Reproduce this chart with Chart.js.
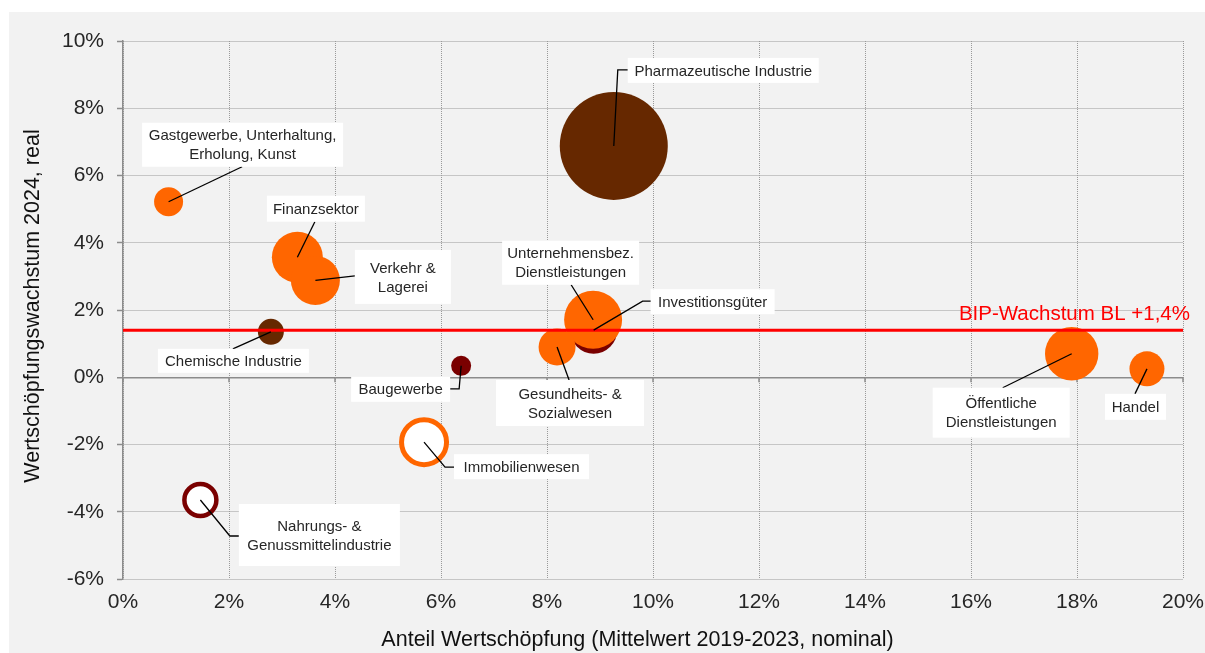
<!DOCTYPE html>
<html>
<head>
<meta charset="utf-8">
<script src="https://cdn.jsdelivr.net/npm/chart.js@4/dist/chart.umd.min.js"></script>
<style>
  html, body { margin: 0; padding: 0; background: #fff; }
  #wrap { width: 1205px; height: 653px; }
</style>
</head>
<body>
<div id="wrap"><canvas id="chart"></canvas></div>
<script>
// values
const sectors = [
  "Pharmazeutische Industrie", "Gastgewerbe, Unterhaltung, Erholung, Kunst", "Finanzsektor",
  "Verkehr & Lagerei", "Chemische Industrie", "Baugewerbe", "Immobilienwesen",
  "Nahrungs- & Genussmittelindustrie", "Investitionsgüter", "Unternehmensbez. Dienstleistungen",
  "Gesundheits- & Sozialwesen", "Öffentliche Dienstleistungen", "Handel"
];
const shareValueAdded = [9.26, 0.86, 3.29, 3.63, 2.79, 6.38, 5.68, 1.46, 8.88, 8.87, 8.19, 17.9, 19.32];
const growthReal      = [6.88, 5.22, 3.57, 2.88, 1.35, 0.34, -1.93, -3.65, 1.40, 1.71, 0.90, 0.70, 0.25];
const bubbleRadius    = [54, 14.5, 25.5, 24.5, 13, 10, 22.5, 16, 23.5, 29, 18.5, 26.7, 17.5];
const bipGrowth = 1.4;
const xRange = [0, 20];
const yRange = [-6, 10];

const FONT = "'Liberation Sans', Arial, sans-serif";
const ORANGE = "#ff6600", BROWN = "#662800", DARKRED = "#7a0000";

const fills   = [BROWN, ORANGE, ORANGE, ORANGE, BROWN, DARKRED, "#ffffff", "#ffffff", DARKRED, ORANGE, ORANGE, ORANGE, ORANGE];
const strokes = [BROWN, ORANGE, ORANGE, ORANGE, BROWN, DARKRED, ORANGE, DARKRED, DARKRED, ORANGE, ORANGE, ORANGE, ORANGE];
const strokeW = [0, 0, 0, 0, 0, 0, 5, 4.5, 0, 0, 0, 0, 0];

// label boxes: offsets from bubble centre in px
const callouts = [
  { lines: ["Pharmazeutische Industrie"], box: [109.5, -75.5, 191, 25], path: [[4, -76], [14, -76]] },
  { lines: ["Gastgewerbe, Unterhaltung,", "Erholung, Kunst"], box: [74, -57, 201, 44], path: [[73.5, -35]] },
  { lines: ["Finanzsektor"], box: [18.5, -48.5, 98, 26], path: [[17.5, -35.5]] },
  { lines: ["Verkehr &", "Lagerei"], box: [87.5, -3.5, 96, 54], path: [[39.5, -4.5]] },
  { lines: ["Chemische Industrie"], box: [-37.5, 29, 151, 24], path: [[-38, 17]] },
  { lines: ["Baugewerbe"], box: [-60.5, 23.5, 99, 25], path: [[-2, 23], [-11, 23]] },
  { lines: ["Immobilienwesen"], box: [97.5, 24.5, 135, 25], path: [[21, 25], [30, 25]] },
  { lines: ["Nahrungs- &", "Genussmittelindustrie"], box: [119, 35, 161, 62], path: [[29.5, 36], [38.5, 36]] },
  { lines: ["Investitionsgüter"], box: [119, -28.5, 124, 25], path: [[49, -29], [59, -29]] },
  { lines: ["Unternehmensbez.", "Dienstleistungen"], box: [-22.5, -57, 137, 44], path: [[-22, -35]] },
  { lines: ["Gesundheits- &", "Sozialwesen"], box: [13, 56, 148, 46], path: [[12, 33]] },
  { lines: ["Öffentliche", "Dienstleistungen"], box: [-70.5, 59, 137, 50], path: [[-69, 34]] },
  { lines: ["Handel"], box: [-11.5, 38, 61, 26], path: [[-12, 25]] }
];

const bubbles = sectors.map((s, i) => ({ x: shareValueAdded[i], y: growthReal[i], r: bubbleRadius[i] }));

const decor = {
  id: "decor",
  beforeDraw(chart) {
    const ctx = chart.ctx;
    ctx.save();
    ctx.fillStyle = "#f2f2f2";
    ctx.fillRect(9, 12, chart.width - 9, chart.height - 12);
    ctx.restore();
  },
  beforeDatasetsDraw(chart) {
    // little ticks below the zero line
    const { ctx, scales: { x, y } } = chart;
    const y0 = y.getPixelForValue(0);
    ctx.save();
    ctx.strokeStyle = "#8c8c8c";
    ctx.lineWidth = 1.5;
    x.ticks.forEach(t => {
      const px = x.getPixelForValue(t.value);
      ctx.beginPath();
      ctx.moveTo(px, y0);
      ctx.lineTo(px, y0 + 5);
      ctx.stroke();
    });
    ctx.restore();
  },
  afterDatasetsDraw(chart) {
    const { ctx } = chart;
    const meta = chart.getDatasetMeta(1);
    ctx.save();
    // leader lines
    ctx.strokeStyle = "#000";
    ctx.lineWidth = 1.3;
    meta.data.forEach((pt, i) => {
      const c = callouts[i];
      ctx.beginPath();
      ctx.moveTo(pt.x, pt.y);
      c.path.forEach(p => ctx.lineTo(pt.x + p[0], pt.y + p[1]));
      ctx.stroke();
    });
    // boxes + text
    ctx.font = "15px " + FONT;
    ctx.textAlign = "center";
    ctx.textBaseline = "middle";
    meta.data.forEach((pt, i) => {
      const c = callouts[i];
      const cx = pt.x + c.box[0], cy = pt.y + c.box[1];
      const w = c.box[2], h = c.box[3];
      ctx.fillStyle = "#ffffff";
      ctx.fillRect(cx - w / 2, cy - h / 2, w, h);
      ctx.fillStyle = "#262626";
      const lh = 19;
      const top = cy - (c.lines.length - 1) * lh / 2;
      c.lines.forEach((l, k) => ctx.fillText(l, cx, top + k * lh + 1));
    });
    ctx.restore();
  },
  afterDraw(chart) {
    const { ctx, chartArea, scales: { y } } = chart;
    ctx.save();
    // BIP label
    ctx.fillStyle = "#ff0000";
    ctx.font = "20.5px " + FONT;
    ctx.textAlign = "right";
    ctx.textBaseline = "alphabetic";
    ctx.fillText("BIP-Wachstum BL +1,4%", chartArea.right + 7, y.getPixelForValue(bipGrowth) - 10);
    // axis titles
    ctx.fillStyle = "#111";
    ctx.font = "21.5px " + FONT;
    ctx.textAlign = "center";
    ctx.textBaseline = "middle";
    ctx.fillText("Anteil Wertschöpfung (Mittelwert 2019-2023, nominal)", 637.5, 640);
    ctx.translate(33, 306);
    ctx.rotate(-Math.PI / 2);
    ctx.fillText("Wertschöpfungswachstum 2024, real", 0, 0);
    ctx.restore();
  }
};

new Chart(document.getElementById("chart"), {
  type: "bubble",
  data: {
    datasets: [
      {
        type: "line",
        label: "BIP-Wachstum BL",
        data: [{ x: xRange[0], y: bipGrowth }, { x: xRange[1], y: bipGrowth }],
        borderColor: "#ff0000",
        borderWidth: 3,
        pointRadius: 0,
        order: 0
      },
      {
        label: "Branchen",
        data: bubbles,
        backgroundColor: fills,
        borderColor: strokes,
        borderWidth: strokeW,
        hoverBorderWidth: strokeW,
        hoverRadius: 0,
        order: 1
      }
    ]
  },
  options: {
    responsive: true,
    maintainAspectRatio: false,
    animation: false,
    events: [],
    // the big bubble would otherwise push the plot area inwards
    layout: { autoPadding: false, padding: { top: 41, right: 22, left: 0, bottom: 0 } },
    plugins: { legend: { display: false }, tooltip: { enabled: false } },
    scales: {
      x: {
        type: "linear",
        min: xRange[0],
        max: xRange[1],
        afterFit: s => { s.height = 74; },
        border: { display: false, dash: [1, 1] },
        grid: { color: "#9a9a9a", drawTicks: false },
        ticks: {
          stepSize: 2,
          padding: 0,
          color: "#262626",
          font: { family: FONT, size: 21, lineHeight: 2.25 },
          callback: v => v + "%"
        }
      },
      y: {
        min: yRange[0],
        max: yRange[1],
        afterFit: s => { s.width = 123; },
        border: {
          display: true,
          color: "#8c8c8c",
          width: 1.5,
          dash: c => (c.tick && c.tick.value === 0 ? [] : [1, 1])
        },
        grid: {
          color: c => (c.tick && c.tick.value === 0 ? "#8c8c8c" : "#9a9a9a"),
          lineWidth: c => (c.tick && c.tick.value === 0 ? 1.5 : 1),
          tickLength: 6,
          tickColor: "#8c8c8c",
          tickWidth: 1.5,
          tickBorderDash: []
        },
        ticks: {
          stepSize: 2,
          padding: 13,
          color: "#262626",
          font: { family: FONT, size: 21 },
          callback: v => v + "%"
        }
      }
    }
  },
  plugins: [decor]
});
</script>
</body>
</html>
